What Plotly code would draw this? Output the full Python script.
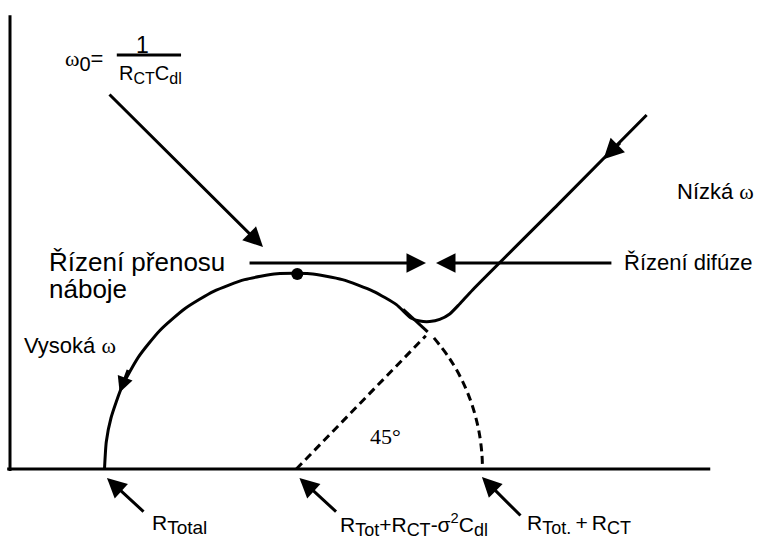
import plotly.graph_objects as go

# Nyquist diagram of a Randles cell: charge-transfer semicircle + Warburg tail
R_TOTAL = 1.0          # high-frequency intercept
R_CT = 4.0             # charge-transfer resistance
Z_RE_MAX = R_TOTAL + R_CT

# solid impedance locus (Z', -Z'')
z_re = [1.000, 1.019, 1.068, 1.187, 1.362, 1.586, 1.853, 2.155, 2.482, 2.826,
        3.174, 3.518, 3.845, 4.089, 4.242, 4.337, 4.442, 4.547, 4.653, 4.758,
        4.895, 5.800, 6.737]
z_im = [0.000, 0.278, 0.518, 0.845, 1.147, 1.414, 1.638, 1.813, 1.932, 1.992,
        1.992, 1.932, 1.813, 1.677, 1.541, 1.510, 1.505, 1.526, 1.582, 1.684,
        1.827, 2.700, 3.612]

# continuation of the semicircle below the Warburg branch
tail_re = [4.160, 4.290, 4.420]
tail_im = [1.630, 1.520, 1.400]

# dashed completion of the semicircle down to R_Tot + R_CT
arc_re = [4.486, 4.638, 4.766, 4.879, 4.956, 4.992, 5.000]
arc_im = [1.338, 1.147, 0.939, 0.684, 0.416, 0.174, 0.000]

# dashed 45° extrapolation of the Warburg line
w45_re = [3.030, 4.400]
w45_im = [0.000, 1.360]

# frequency maximum omega_0
top_re = [3.04]
top_im = [1.99]

BLACK = "#000000"
FONT = "Liberation Sans, Arial, sans-serif"
SERIF = "Liberation Serif"
W, H = 760, 542
KX, KY = 94.5, 98.0        # px per unit
X0, Y0 = 10, 469           # origin in px

fig = go.Figure()

fig.add_trace(go.Scatter(x=z_re, y=z_im, mode="lines",
                         line=dict(color=BLACK, width=3, shape="spline", smoothing=0.6),
                         hoverinfo="skip"))
fig.add_trace(go.Scatter(x=tail_re, y=tail_im, mode="lines",
                         line=dict(color=BLACK, width=3), hoverinfo="skip"))
fig.add_trace(go.Scatter(x=arc_re, y=arc_im, mode="lines",
                         line=dict(color=BLACK, width=3, dash="8px,5px", shape="spline"),
                         hoverinfo="skip"))
fig.add_trace(go.Scatter(x=w45_re, y=w45_im, mode="lines",
                         line=dict(color=BLACK, width=3, dash="8px,5px"),
                         hoverinfo="skip"))
fig.add_trace(go.Scatter(x=top_re, y=top_im, mode="markers",
                         marker=dict(color=BLACK, size=12), hoverinfo="skip"))

# axes drawn as plain lines
fig.add_shape(type="line", x0=0, x1=0, y0=-0.02, y1=4.63,
              line=dict(color=BLACK, width=3))
fig.add_shape(type="line", x0=-0.03, x1=7.41, y0=0, y1=0,
              line=dict(color=BLACK, width=3))
# fraction bar of the omega_0 formula
fig.add_shape(type="line", x0=1.13, x1=1.81, y0=4.224, y1=4.224,
              line=dict(color=BLACK, width=3))


def arrow(x, y, ax, ay, size=1.3, head=2):
    fig.add_annotation(x=x, y=y, ax=ax, ay=ay, xref="x", yref="y",
                       axref="x", ayref="y", text="", showarrow=True,
                       arrowhead=head, arrowsize=size, arrowwidth=3,
                       arrowcolor=BLACK, standoff=0, startstandoff=0)


def dir_arrow(x, y, dx, dy, size=1.0):
    fig.add_annotation(x=x, y=y, ax=dx, ay=dy, xref="x", yref="y",
                       text="", showarrow=True, arrowhead=2, arrowsize=size,
                       arrowwidth=3, arrowcolor=BLACK, standoff=0)


# direction of decreasing frequency along the locus
dir_arrow(1.16, 0.78, 9, -24, 1.05)
dir_arrow(6.28, 3.16, 18, -18, 1.35)

# pointer from the omega_0 formula
arrow(2.677, 2.265, 1.037, 3.837)
# kinetic / diffusion control boundary
arrow(4.402, 2.102, 2.519, 2.102)
arrow(4.508, 2.102, 6.380, 2.102)
# intercept pointers
arrow(1.026, -0.092, 1.429, -0.449)
arrow(3.063, -0.092, 3.466, -0.449)
arrow(4.994, -0.082, 5.418, -0.490)


def sub(t, px=20):
    return "<sub><span style='font-size:%dpx'>%s</span></sub>" % (px, t)


def label(x, y, text, size=22, family=FONT, xanchor="left"):
    fig.add_annotation(x=x, y=y, xref="x", yref="y", text=text, showarrow=False,
                       xanchor=xanchor, yanchor="middle",
                       font=dict(family=family, size=size, color=BLACK))


OMEGA = "<span style='font-family:Liberation Serif'>ω</span>"
THIN = "\u2009"
label(0.56, 4.17, OMEGA + sub("0") + "=")
label(1.407, 4.33, "1", size=23, xanchor="center")
label(1.13, 4.03, "R" + sub("CT", 16) + "C" + sub("dl", 16), size=20)
label(0.39, 2.112, "Řízení přenosu", size=26)
label(0.39, 1.835, "náboje", size=26)
label(6.476, 2.112, "Řízení difúze")
label(7.037, 2.827, "Nízká " + OMEGA)
label(0.127, 1.265, "Vysoká " + OMEGA)
label(3.788, 0.327, "45°", size=22, family=SERIF)
label(1.481, -0.57, "R" + sub("Total", 19), size=21)
label(3.47, -0.57, "R" + sub("Tot", 18) + "+R" + sub("CT", 18) + "-σ<sup>2</sup>C" + sub("dl", 18),
      size=21)
label(5.45, -0.57, "R" + sub("Tot.", 18) + THIN + "+" + THIN + "R" + sub("CT", 18), size=21)

fig.update_xaxes(range=[(0 - X0) / KX, (W - X0) / KX], visible=False,
                 showgrid=False, zeroline=False, fixedrange=True)
fig.update_yaxes(range=[(Y0 - H) / KY, Y0 / KY], visible=False,
                 showgrid=False, zeroline=False, fixedrange=True)
fig.update_layout(width=W, height=H, margin=dict(l=0, r=0, t=0, b=0),
                  paper_bgcolor="white", plot_bgcolor="white", showlegend=False)

fig.write_html("out.html")
